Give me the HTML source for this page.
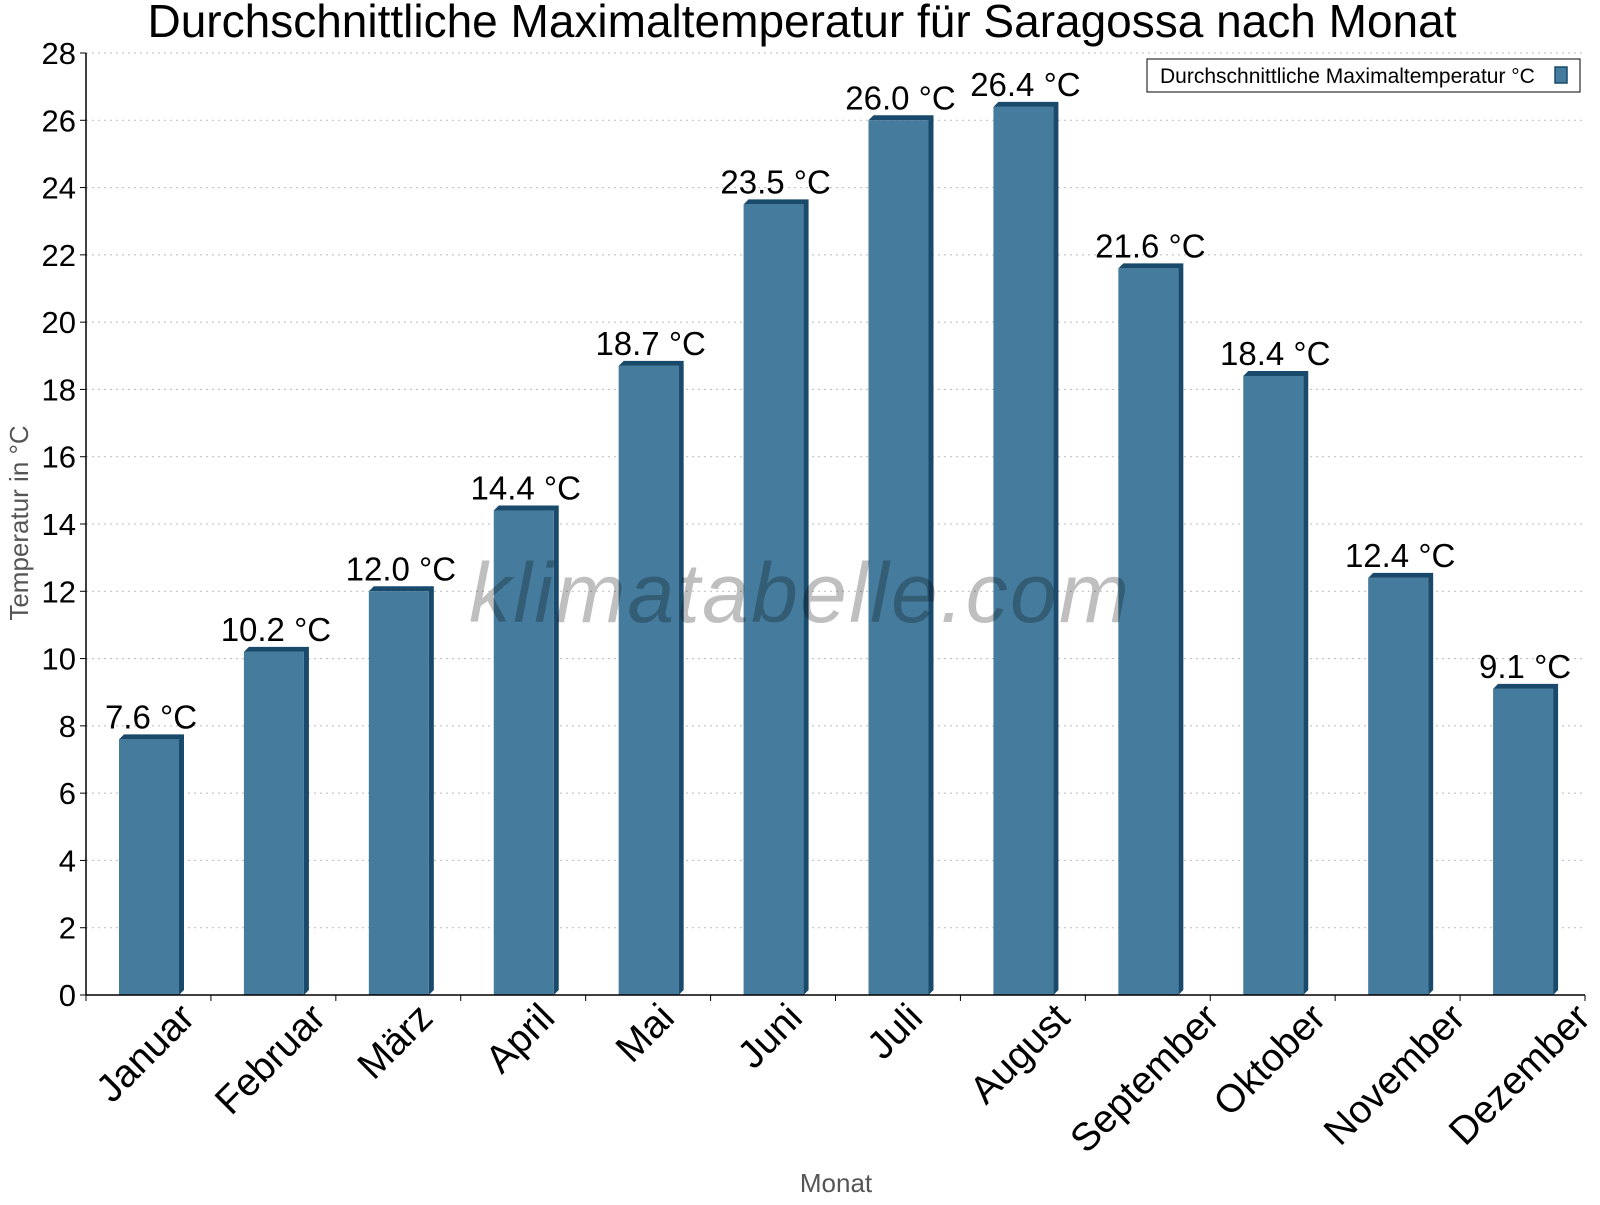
<!DOCTYPE html>
<html><head><meta charset="utf-8"><style>
body{margin:0;background:#fff;}
svg text{font-family:"Liberation Sans",sans-serif;}
</style></head><body>
<svg id="c" width="1600" height="1200" xmlns="http://www.w3.org/2000/svg">
<text x="802" y="37" font-size="46" text-anchor="middle">Durchschnittliche Maximaltemperatur für Saragossa nach Monat</text>
<g id="grid"></g><g id="bars"></g><g id="axes"></g>
<text x="799" y="622" font-size="84" font-style="italic" fill="#000" fill-opacity="0.25" text-anchor="middle" textLength="660">klimatabelle.com</text>
<text transform="translate(28,523) rotate(-90)" font-size="26" fill="#555" text-anchor="middle">Temperatur in °C</text>
<text x="836" y="1192" font-size="26" fill="#555" text-anchor="middle">Monat</text>
<g>
<rect x="1147" y="59" width="433" height="33" fill="#fff" stroke="#000" stroke-width="1"/>
<text x="1160" y="83" font-size="21">Durchschnittliche Maximaltemperatur °C</text>
<rect x="1555" y="67" width="12" height="16" fill="#457b9d" stroke="#1a4a6b" stroke-width="1.5"/>
</g>
</svg>
<script>
const categories=["Januar","Februar","März","April","Mai","Juni","Juli","August","September","Oktober","November","Dezember"];
const values=[7.6,10.2,12.0,14.4,18.7,23.5,26.0,26.4,21.6,18.4,12.4,9.1];
const yTicks=[0,2,4,6,8,10,12,14,16,18,20,22,24,26,28];
const NS="http://www.w3.org/2000/svg";
const L=86,R=1585,T=53,B=995,yMax=28;
const cw=(R-L)/categories.length;
const y=v=>B-(v/yMax)*(B-T);
const x=i=>L+i*cw;
function mk(t,a,p){const e=document.createElementNS(NS,t);for(const k in a)e.setAttribute(k,a[k]);p.appendChild(e);return e;}
const grid=document.getElementById('grid'),bars=document.getElementById('bars'),axes=document.getElementById('axes');
yTicks.forEach(t=>{
 if(t>0){const g=mk('line',{x1:L,x2:R,y1:y(t),y2:y(t),stroke:'#bbb','stroke-dasharray':'2,4'},grid);
 
 }
 const tk=mk('line',{x1:L-6,x2:L,y1:y(t),y2:y(t),stroke:'#000'},axes);
 
 
 const tl=mk('text',{x:L-10,y:y(t)+11,'font-size':31,'text-anchor':'end'},axes);
 tl.textContent=t;
 
 
});
values.forEach((v,i)=>{
 const bx=x(i)+33,bw=60,d=5,top=y(v);
 const g=mk('g',{},bars);
 
 
 mk('polygon',{points:`${bx},${top} ${bx+d},${top-d} ${bx+bw+d},${top-d} ${bx+bw+d},${B-d} ${bx+bw},${B} ${bx+bw},${top}`,fill:'#1a4a6b'},g);
 mk('rect',{x:bx,y:top,width:bw,height:B-top,fill:'#457b9d'},g);
 const lb=mk('text',{x:bx+bw/2+2,y:top-11,'font-size':33,'text-anchor':'middle'},bars);
 lb.textContent=v.toFixed(1)+' °C';
 
 
 const xl=mk('text',{'font-size':39,'text-anchor':'end'},axes);
 xl.textContent=categories[i];
 
 
 const len=xl.getComputedTextLength();
 const cx=x(i)+cw/2+len*0.3536+6, cy=1020;
 xl.setAttribute('x',cx);xl.setAttribute('y',cy);
 xl.setAttribute('transform',`rotate(-45 ${cx} ${cy})`);
});
for(let i=0;i<=categories.length;i++){
 const tk=mk('line',{x1:x(i),x2:x(i),y1:B,y2:B+6,stroke:'#000'},axes);
 
 
}
const ya=mk('line',{x1:L,x2:L,y1:T,y2:B,stroke:'#000','stroke-width':1.5},axes);


const xa=mk('line',{x1:L,x2:R,y1:B,y2:B,stroke:'#000','stroke-width':1.5},axes);


</script>
</body></html>
